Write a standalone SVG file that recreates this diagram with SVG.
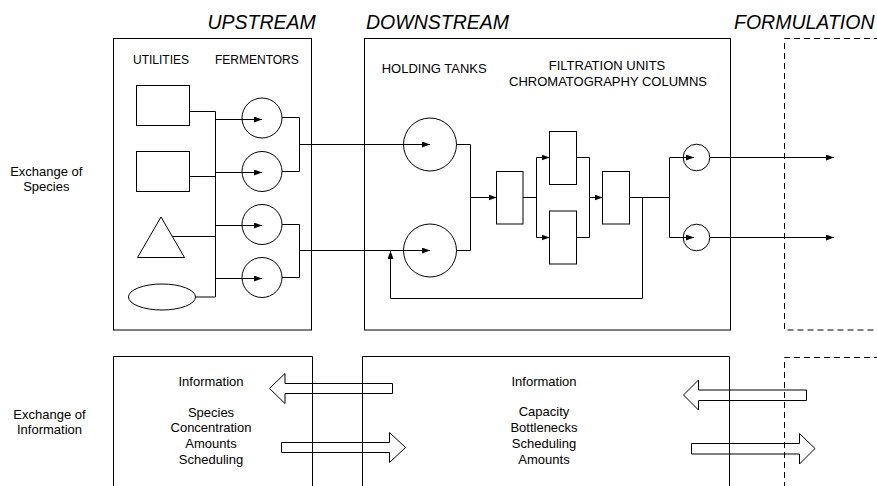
<svg xmlns="http://www.w3.org/2000/svg" width="877" height="486" viewBox="0 0 877 486">
<style>
.s{fill:none;stroke:#000;stroke-width:1}
.w{fill:#fff;stroke:#000;stroke-width:1}
.d{fill:none;stroke:#000;stroke-width:1;stroke-dasharray:6,4}
.h{font-family:"Liberation Sans",Arial,sans-serif;font-style:italic;font-size:19.5px;fill:#000}
.t{font-family:"Liberation Sans",Arial,sans-serif;font-size:13px;fill:#000}
.t12{font-family:"Liberation Sans",Arial,sans-serif;font-size:12px;fill:#000}
.c{text-anchor:middle}
.a{fill:none;stroke:#000;stroke-width:1}
</style>
<defs>
<marker id="ah" viewBox="0 0 8 6" refX="8" refY="3" markerWidth="8" markerHeight="6" markerUnits="userSpaceOnUse" orient="auto">
<path d="M0,0 L8,3 L0,6 z" fill="#000"/>
</marker>
</defs>
<rect width="877" height="486" fill="#fff"/>

<g id="headings">
<text class="h" x="207.5" y="29">UPSTREAM</text>
<text class="h" x="366" y="29">DOWNSTREAM</text>
<text class="h" x="734" y="29">FORMULATION</text>
</g>

<g id="row-labels">
<text class="t c" x="46.3" y="175.5">Exchange of</text>
<text class="t c" x="46.3" y="191">Species</text>
<text class="t c" x="49.5" y="419.3">Exchange of</text>
<text class="t c" x="49.5" y="434.3">Information</text>
</g>

<g id="upstream-box">
<rect class="s" x="113.5" y="38.5" width="198" height="291.5"/>
<text class="t12" x="133" y="64.3">UTILITIES</text>
<text class="t12" x="215" y="64.3">FERMENTORS</text>
</g>
<g id="downstream-box">
<rect class="s" x="364.5" y="38.5" width="366" height="291.5"/>
<text class="t" x="381.7" y="73.3">HOLDING TANKS</text>
<text class="t c" x="607" y="70">FILTRATION UNITS</text>
<text class="t c" x="608" y="86">CHROMATOGRAPHY COLUMNS</text>
</g>
<g id="formulation-box">
<path class="d" d="M880 38.5 H784.5 V330 H880"/>
</g>

<g id="connectors">
<path class="s" d="M189.5 111.5 H215.5 M189.5 176.5 H215.5 M172.3 236.5 H215.5 M195.5 297 H215.5 M215.5 111.5 V297"/>
<path class="s" marker-end="url(#ah)" d="M215.5 119.5 H262"/>
<path class="s" marker-end="url(#ah)" d="M215.5 172.5 H262"/>
<path class="s" marker-end="url(#ah)" d="M215.5 225.5 H262"/>
<path class="s" marker-end="url(#ah)" d="M215.5 278.5 H262"/>
<path class="s" d="M282 117.5 H299.5 V171.5 H282 M282 224.5 H299.5 V277.5 H282"/>
<path class="s" marker-end="url(#ah)" d="M299.5 144.5 H430"/>
<path class="s" marker-end="url(#ah)" d="M299.5 250.5 H430"/>
<path class="s" d="M456.5 144.5 H470.5 V250.5 H456.5"/>
<path class="s" marker-end="url(#ah)" d="M470.5 197.5 H496.5"/>
<path class="s" d="M523 197.5 H536.5 M536.5 157.5 V237.5"/>
<path class="s" marker-end="url(#ah)" d="M536.5 157.5 H549.5"/>
<path class="s" marker-end="url(#ah)" d="M536.5 237.5 H549.5"/>
<path class="s" d="M576.5 157.5 H589.5 V237.5 H576.5"/>
<path class="s" marker-end="url(#ah)" d="M589.5 197.5 H602.5"/>
<path class="s" d="M629.5 197.5 H669.5 M669.5 157.5 V237.5"/>
<path class="s" marker-end="url(#ah)" d="M669.5 157.5 H694"/>
<path class="s" marker-end="url(#ah)" d="M669.5 237.5 H694"/>
<path class="s" marker-end="url(#ah)" d="M710 157.5 H834"/>
<path class="s" marker-end="url(#ah)" d="M710 237.5 H834"/>
<path class="s" marker-end="url(#ah)" d="M642.5 197.5 V298.5 H390.5 V251"/>
</g>

<g id="utility-1"><rect class="s" x="136.5" y="85.5" width="53" height="40"/></g>
<g id="utility-2"><rect class="s" x="136.5" y="151.5" width="53" height="40"/></g>
<g id="utility-3"><polygon class="s" points="161,217 184.5,257.5 137.5,257.5"/></g>
<g id="utility-4"><ellipse class="s" cx="162" cy="297" rx="33.5" ry="13"/></g>

<g id="fermentor-1"><circle class="s" cx="262" cy="118" r="20"/></g>
<g id="fermentor-2"><circle class="s" cx="262" cy="171.5" r="20"/></g>
<g id="fermentor-3"><circle class="s" cx="262" cy="224.5" r="20"/></g>
<g id="fermentor-4"><circle class="s" cx="262" cy="277.5" r="20"/></g>

<g id="tank-1"><circle class="s" cx="430" cy="144.5" r="26.5"/></g>
<g id="tank-2"><circle class="s" cx="430" cy="250.5" r="26.5"/></g>

<g id="unit-a"><rect class="s" x="496.5" y="171.5" width="26.5" height="52.5"/></g>
<g id="unit-b"><rect class="s" x="549.5" y="131.5" width="27" height="53"/></g>
<g id="unit-c"><rect class="s" x="549.5" y="211" width="27" height="53"/></g>
<g id="unit-d"><rect class="s" x="602.5" y="171.5" width="27" height="52.5"/></g>

<g id="out-1"><circle class="s" cx="696.5" cy="157.5" r="13.3"/></g>
<g id="out-2"><circle class="s" cx="696.5" cy="237.5" r="13.3"/></g>

<g id="info-upstream">
<path class="s" d="M113.5 486 V356.5 H312.5 V486"/>
<text class="t c" x="211" y="385.7">Information</text>
<text class="t c" x="211" y="416.7">Species</text>
<text class="t c" x="211" y="432.3">Concentration</text>
<text class="t c" x="211" y="448.3">Amounts</text>
<text class="t c" x="211" y="464">Scheduling</text>
</g>
<g id="info-downstream">
<path class="s" d="M362.5 486 V356.5 H729.5 V486"/>
<text class="t c" x="544" y="385.7">Information</text>
<text class="t c" x="544" y="416">Capacity</text>
<text class="t c" x="544" y="432">Bottlenecks</text>
<text class="t c" x="544" y="448">Scheduling</text>
<text class="t c" x="544" y="463.5">Amounts</text>
</g>
<g id="info-formulation">
<path class="d" d="M880 357.5 H784.5 V486"/>
</g>

<g id="info-arrows">
<polygon class="a" points="392.5,383.5 285,383.5 285,373.5 269.5,388.5 285,403.5 285,393.5 392.5,393.5"/>
<polygon class="a" points="281.5,442.5 389.5,442.5 389.5,432.5 405.5,447.5 389.5,462.5 389.5,452.5 281.5,452.5"/>
<polygon class="a" points="806.5,390 698.5,390 698.5,380 683.5,395 698.5,410 698.5,400.5 806.5,400.5"/>
<polygon class="a" points="691.5,443.5 799.5,443.5 799.5,433.5 815,448.5 799.5,464 799.5,454 691.5,454"/>
</g>
</svg>
